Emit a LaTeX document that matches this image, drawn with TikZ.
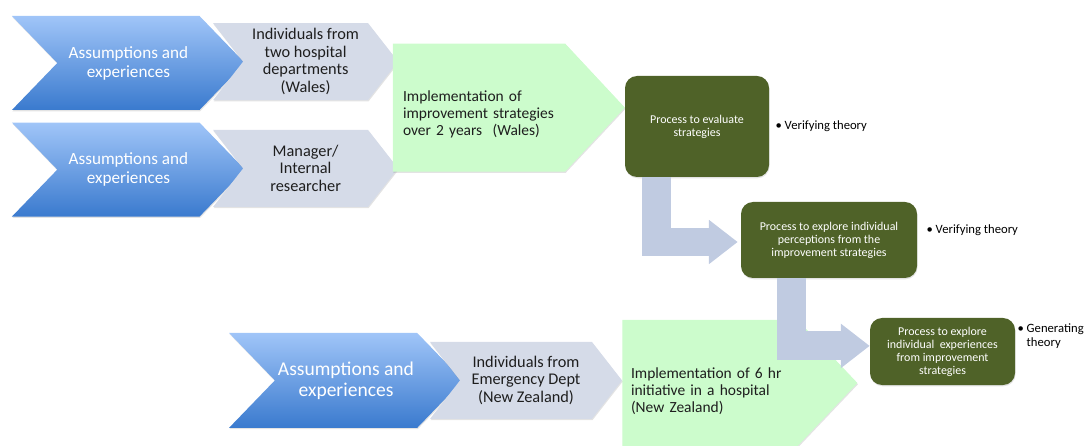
\documentclass[tikz,border=0pt]{standalone}
\usepackage{fontspec}
\setmainfont{Carlito}
\usepackage{xcolor}
\usepackage{tikz}
\usetikzlibrary{arrows.meta,positioning,shapes.symbols,shadows}
\definecolor{chevTop}{RGB}{160,197,248}
\definecolor{chevBot}{RGB}{58,122,206}
\definecolor{groupGray}{RGB}{213,219,232}
\definecolor{implGreen}{RGB}{204,252,204}
\definecolor{procOlive}{RGB}{79,98,40}
\definecolor{flowBlue}{RGB}{192,203,225}
\definecolor{inkGray}{RGB}{30,30,30}

\begin{document}
\begin{tikzpicture}[
    softshadow/.style={drop shadow={opacity=0.22, shadow xshift=0.4pt, shadow yshift=-0.9pt}},
    assume/.style={signal, signal from=west, signal to=east, signal pointer angle=92, top color=chevTop, bottom color=chevBot, draw=none, text=white, inner sep=0pt, minimum width=5.825cm, minimum height=2.35cm, align=center, font=\fontsize{12.2}{13.5}\selectfont, softshadow},
    group/.style={signal, signal from=west, signal to=east, signal pointer angle=104, fill=groupGray, draw=none, text=inkGray, inner sep=0pt, minimum width=4.625cm, minimum height=1.925cm, align=center, font=\fontsize{11.6}{12.6}\selectfont, softshadow},
    impl/.style={signal, signal to=east, signal pointer angle=94, fill=implGreen, draw=none, text=inkGray, inner sep=0pt, minimum width=5.8cm, minimum height=3.2cm, align=left, font=\fontsize{11}{12.2}\selectfont, softshadow},
    proc/.style={draw=none, fill=procOlive, rounded corners=0.3cm, text=white, align=center, inner sep=2pt, font=\fontsize{8.5}{9.2}\selectfont, softshadow},
    note/.style={inner sep=0pt, text=black, align=left, font=\fontsize{9}{10}\selectfont},
    flow/.style={draw=flowBlue, line width=0.72cm, -{Triangle[length=0.72cm, width=1.06cm]}}
]
\useasboundingbox (0,0) rectangle (27.1,-11.15);

% first study (Wales)
\node[assume] (assume1) at (3.21,-1.575) {Assumptions and\\experiences};
\node[assume] (assume2) at (3.21,-4.24) {Assumptions and\\experiences};
\node[group] (wales) at (7.64,-1.54) {Individuals from\\two hospital\\departments\\(Wales)};
\node[group] (manager) at (7.64,-4.21) {Manager/\\Internal\\researcher};
\node[impl, text width=3.8cm] (implWales) at (11.975,-2.69) {\rule{0pt}{17pt}Implementation of\\improvement strategies\\over 2 years~ (Wales)};

% second study (New Zealand)
\node[assume, minimum width=5.85cm, minimum height=2.375cm, font=\fontsize{13.9}{15}\selectfont] (assume3) at (8.65,-9.51) {Assumptions and\\experiences};
\node[impl, minimum width=5.875cm, minimum height=3.15cm, signal pointer angle=93, text width=3.95cm] (implNZ) at (17.75,-9.575) {\rule{0pt}{19pt}Implementation of 6 hr\\initiative in a hospital\\(New Zealand)};
\node[group, minimum width=4.8cm] (emergency) at (13.15,-9.51) {Individuals from\\Emergency Dept\\(New Zealand)};

% processes
\node[proc, minimum width=3.6cm, minimum height=2.525cm] (evaluate) at (17.425,-3.1625) {Process to evaluate\\strategies};
\node[proc, minimum width=4.4cm, minimum height=1.9cm] (perceive) at (20.725,-6.0) {Process to explore individual\\perceptions from the\\improvement strategies};
\node[proc, minimum width=3.625cm, minimum height=1.675cm] (experience) at (23.5625,-8.7875) {Process to explore\\individual~ experiences\\from improvement\\strategies};

\node[note, right=0.15cm of evaluate] (verify1) {\textbullet\ Verifying theory};
\node[note, right=0.225cm of perceive, yshift=0.25cm] (verify2) {\textbullet\ Verifying theory};
\node[note, right=0.05cm of experience, yshift=0.36cm] (generate) {\begin{tabular}{@{}l@{\ }l@{}}\textbullet & Generating\\ & theory\end{tabular}};

\draw[flow, shorten >=0.075cm] ([xshift=-1.01cm]evaluate.south) |- ([yshift=-0.05cm]perceive.west);
\draw[flow] ([xshift=-0.94cm]perceive.south) |- ([yshift=0.14cm]experience.west);
\end{tikzpicture}
\end{document}
